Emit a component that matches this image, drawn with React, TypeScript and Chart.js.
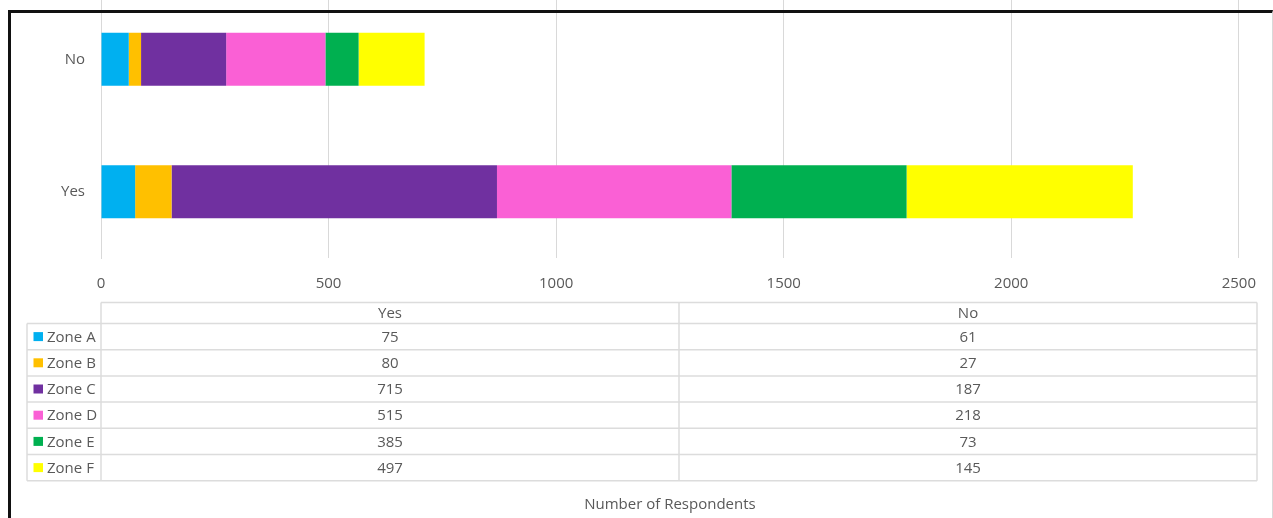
import React, { useEffect, useRef } from "react";
import { Chart, registerables } from "chart.js";

Chart.register(...registerables);

const categories = ["Yes", "No"];
const zones = ["Zone A", "Zone B", "Zone C", "Zone D", "Zone E", "Zone F"];
const zoneColors = ["#00B0F0", "#FFC000", "#7030A0", "#FA60D5", "#00B050", "#FFFF00"];
const yesValues = [75, 80, 715, 515, 385, 497];
const noValues = [61, 27, 187, 218, 73, 145];
const xTicks = [0, 500, 1000, 1500, 2000, 2500];
const axisTitle = "Number of Respondents";

const FONT = "'Open Sans', 'DejaVu Sans', sans-serif";
const TEXT = "#595959";
const GRID = "#D9D9D9";
const OFFSET = 30; // canvas is shifted up by this many px

const tablePlugin = {
  id: "dataTable",
  afterDraw(chart: any) {
    const ctx = chart.ctx as CanvasRenderingContext2D;
    const left = chart.chartArea.left;
    const right = 1257;
    const legendLeft = 27;
    const headerTop = 302.5 + OFFSET;
    const headerH = 21;
    const rowH = 26.2;
    const colW = (right - left) / categories.length;
    const rowsTop = headerTop + headerH;
    const bottom = rowsTop + rowH * zones.length;
    const series = [yesValues, noValues];

    ctx.save();
    ctx.strokeStyle = "#DCDCDC";
    ctx.lineWidth = 1.5;
    const line = (x1: number, y1: number, x2: number, y2: number) => {
      ctx.beginPath();
      ctx.moveTo(x1, y1);
      ctx.lineTo(x2, y2);
      ctx.stroke();
    };
    line(left, headerTop, right, headerTop);
    for (let i = 0; i <= zones.length; i++) {
      line(legendLeft, rowsTop + i * rowH, right, rowsTop + i * rowH);
    }
    line(legendLeft, rowsTop, legendLeft, bottom);
    for (let c = 0; c <= categories.length; c++) {
      line(left + c * colW, headerTop, left + c * colW, bottom);
    }

    ctx.font = `15px ${FONT}`;
    ctx.fillStyle = TEXT;
    ctx.textBaseline = "middle";
    ctx.textAlign = "center";
    categories.forEach((cat, c) => {
      ctx.fillText(cat, left + colW * (c + 0.5), headerTop + headerH / 2 + 1);
    });
    zones.forEach((z, r) => {
      const cy = rowsTop + rowH * (r + 0.5) + 1;
      ctx.textAlign = "center";
      ctx.fillStyle = TEXT;
      series.forEach((vals, c) => {
        ctx.fillText(String(vals[r]), left + colW * (c + 0.5), cy);
      });
      ctx.fillStyle = zoneColors[r];
      ctx.fillRect(33.5, cy - 5.5, 9.5, 9);
      ctx.fillStyle = TEXT;
      ctx.textAlign = "left";
      ctx.fillText(z, 47, cy);
    });
    ctx.restore();
  },
};

export default function App() {
  const ref = useRef<HTMLCanvasElement>(null);

  useEffect(() => {
    document.body.style.margin = "0";
    const canvas = ref.current!;
    const chart = new Chart(canvas, {
      type: "bar",
      data: {
        labels: categories,
        datasets: zones.map((z, i) => ({
          label: z,
          data: [yesValues[i], noValues[i]],
          backgroundColor: zoneColors[i],
          borderWidth: 0,
          barPercentage: 0.4,
          categoryPercentage: 1,
        })),
      },
      options: {
        indexAxis: "y",
        responsive: false,
        animation: false,
        devicePixelRatio: 1,
        layout: { padding: { left: 0, right: 34, top: 23, bottom: 0 } },
        plugins: {
          legend: { display: false },
          tooltip: { enabled: false },
          title: { display: false },
        },
        scales: {
          x: {
            stacked: true,
            min: 0,
            max: 2500,
            afterFit: (scale: any) => {
              scale.height = 260;
            },
            afterBuildTicks: (scale: any) => {
              scale.ticks = xTicks.map((v) => ({ value: v }));
            },
            grid: { color: GRID, lineWidth: 1, drawTicks: false },
            border: { display: false },
            ticks: {
              color: TEXT,
              font: { family: FONT, size: 15 },
              padding: 17,
              maxRotation: 0,
              callback: (v: any) => String(v),
            },
            title: {
              display: true,
              text: axisTitle,
              color: TEXT,
              font: { family: FONT, size: 15 },
              padding: { top: 0, bottom: 4 },
            },
          },
          y: {
            stacked: true,
            reverse: true,
            afterFit: (scale: any) => {
              scale.width = 101;
            },
            grid: { display: false },
            border: { display: true, color: GRID, width: 1 },
            ticks: {
              color: TEXT,
              font: { family: FONT, size: 15 },
              padding: 8,
            },
          },
        },
      },
      plugins: [tablePlugin],
    } as any);
    return () => chart.destroy();
  }, []);

  return (
    <div
      style={{
        position: "absolute",
        left: 0,
        top: 0,
        width: 1273,
        height: 518,
        overflow: "hidden",
        background: "#fff",
      }}
    >
      <canvas
        ref={ref}
        width={1273}
        height={548}
        style={{ position: "absolute", left: 0, top: -OFFSET, width: 1273, height: 548 }}
      />
      <div
        style={{
          position: "absolute",
          left: 8,
          top: 10,
          width: 1265,
          height: 600,
          boxSizing: "border-box",
          borderLeft: "3px solid #111",
          borderTop: "3px solid #111",
          borderRight: "1px solid #D9D9D9",
          pointerEvents: "none",
        }}
      />
    </div>
  );
}
